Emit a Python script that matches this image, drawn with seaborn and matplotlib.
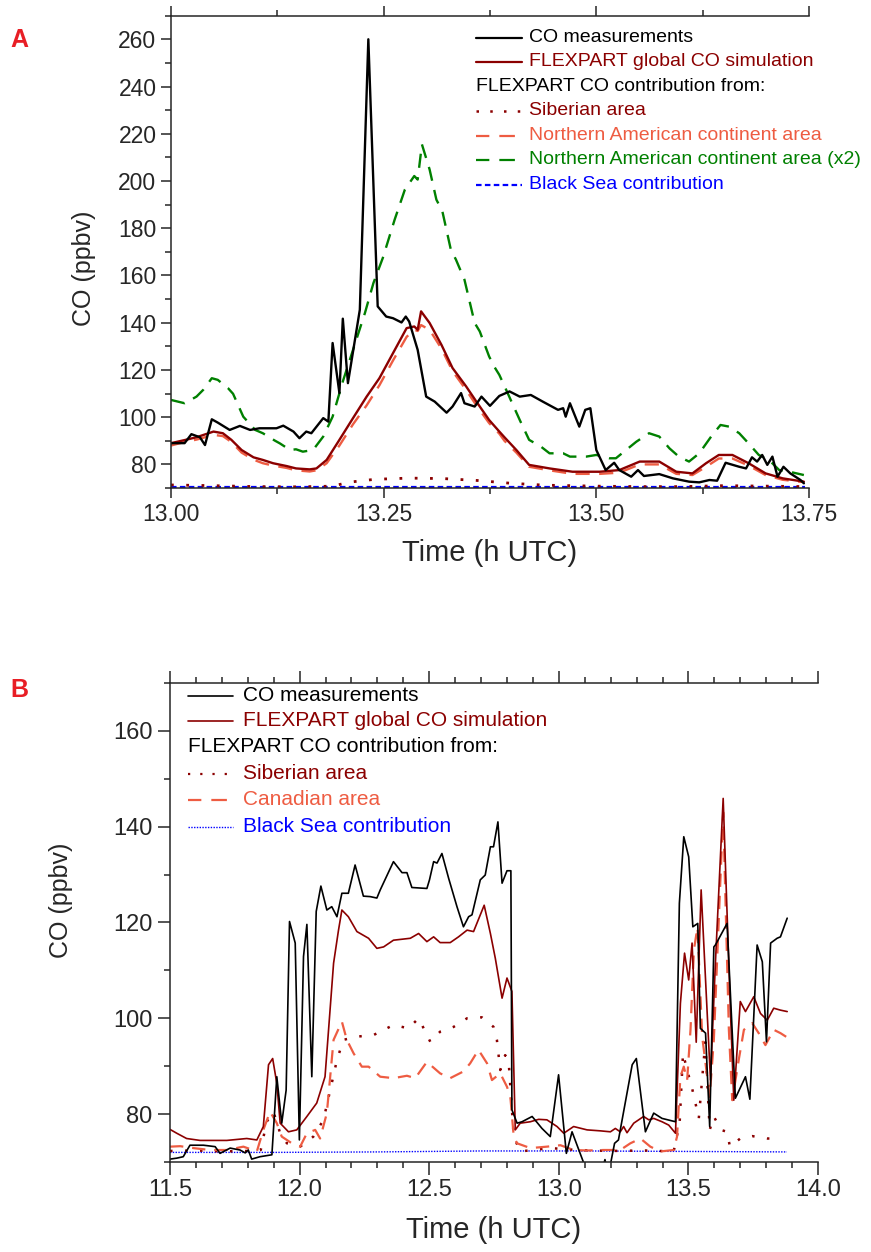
import matplotlib
matplotlib.use("Agg")
import matplotlib.pyplot as plt
from matplotlib.ticker import MultipleLocator, FormatStrFormatter
import seaborn as sns

# PANEL A DATA (time in h UTC, CO in ppbv)
a_meas_t = [13.000, 13.016, 13.024, 13.034, 13.040, 13.048, 13.055, 13.069, 13.081, 13.093,
            13.104, 13.124, 13.132, 13.144, 13.151, 13.159, 13.165, 13.179, 13.185, 13.190,
            13.198, 13.202, 13.208, 13.222, 13.232, 13.243, 13.253, 13.261, 13.271, 13.276,
            13.280, 13.290, 13.300, 13.310, 13.324, 13.331, 13.341, 13.345, 13.357, 13.365,
            13.375, 13.386, 13.398, 13.410, 13.423, 13.437, 13.455, 13.461, 13.464, 13.469,
            13.480, 13.487, 13.493, 13.500, 13.511, 13.521, 13.527, 13.541, 13.549, 13.556,
            13.574, 13.590, 13.609, 13.621, 13.633, 13.642, 13.652, 13.668, 13.676, 13.683,
            13.689, 13.695, 13.701, 13.707, 13.713, 13.720, 13.728, 13.740, 13.744]
a_meas_v = [89, 89, 92.8, 91.5, 88.2, 99.1, 97.7, 94.6, 96.3, 94.6,
            95.3, 95.3, 96.4, 93.9, 91.1, 93.9, 93.2, 99.6, 98.1, 131.4,
            110.2, 141.7, 114.4, 145.5, 260, 146.9, 142.6, 141.9, 140.1, 142.6,
            140.5, 128.5, 108.7, 106.6, 101.9, 104.5, 110.2, 105.9, 104.5, 108.7,
            104.8, 109.0, 110.9, 108.7, 109.4, 106.6, 103.1, 103.8, 100.2, 105.9,
            96.0, 103.1, 103.8, 86.1, 77.6, 80.7, 77.6, 74.8, 77.6, 75.1,
            75.9, 74.1, 72.7, 72.4, 73.4, 73.1, 80.7, 79.0, 78.3, 83.0,
            81.2, 84.0, 79.8, 83.3, 74.8, 79.0, 76.2, 73.4, 72.0]

a_sim_t = [13.000, 13.016, 13.030, 13.050, 13.061, 13.071, 13.083, 13.097, 13.108, 13.120,
           13.136, 13.147, 13.163, 13.171, 13.183, 13.198, 13.214, 13.230, 13.245, 13.261,
           13.277, 13.286, 13.290, 13.294, 13.304, 13.318, 13.331, 13.347, 13.359, 13.374,
           13.386, 13.392, 13.406, 13.421, 13.445, 13.472, 13.504, 13.527, 13.551, 13.574,
           13.594, 13.613, 13.629, 13.644, 13.660, 13.679, 13.699, 13.719, 13.744]
a_glob_v = [89, 90.3, 91.5, 93.9, 93.2, 90.4, 86.1, 83.0, 81.9, 80.5,
            79.3, 78.3, 77.9, 78.3, 81.9, 90.4, 99.6, 108.7, 116.5, 127.1,
            137.7, 138.4, 137.0, 144.8, 139.9, 130.6, 120.8, 113.0, 106.6, 98.8,
            93.9, 91.5, 86.1, 79.8, 78.3, 76.9, 76.9, 77.6, 81.2, 81.2,
            76.9, 76.2, 80.5, 84.0, 84.0, 80.5, 76.2, 74.1, 72.7]
a_nam_v = [88, 89.5, 90.5, 92.5, 92, 89.5, 85, 82, 80.5, 79.5,
           78.5, 77.5, 77, 77.5, 80.5, 88, 97, 105, 113.5, 124,
           134, 137, 136.5, 139, 137, 129, 119.5, 111.5, 105, 97.5,
           93, 90, 85, 79, 77.5, 76, 76, 76.5, 80, 80,
           76, 75.5, 79, 82.5, 82.5, 79.5, 75.5, 73.5, 72.5]

a_nam2_t = [13.000, 13.016, 13.030, 13.038, 13.048, 13.055, 13.067, 13.073, 13.085, 13.099,
            13.108, 13.122, 13.128, 13.140, 13.147, 13.155, 13.167, 13.179, 13.190, 13.202,
            13.214, 13.228, 13.238, 13.249, 13.263, 13.275, 13.286, 13.290, 13.295, 13.304,
            13.312, 13.319, 13.329, 13.335, 13.345, 13.357, 13.363, 13.374, 13.380, 13.386,
            13.394, 13.410, 13.421, 13.435, 13.445, 13.461, 13.469, 13.488, 13.500, 13.515,
            13.523, 13.535, 13.547, 13.562, 13.574, 13.586, 13.597, 13.609, 13.621, 13.635,
            13.646, 13.656, 13.668, 13.679, 13.691, 13.703, 13.715, 13.727, 13.744]
a_nam2_v = [107.3, 105.9, 108.7, 111.6, 116.5, 115.8, 112.3, 109.9, 100.2, 94.6,
            93.2, 90.1, 88.9, 86.1, 86.4, 85.4, 86.1, 91.8, 100.2, 115.1,
            128.5, 144.1, 156.8, 167.4, 183.7, 196.4, 202.1, 200.6, 215.5, 204.9,
            192.1, 187.2, 170.9, 166.7, 158.2, 139.9, 136.3, 125.7, 121.4, 117.9,
            111.6, 98.8, 90.4, 87.5, 84.7, 84.7, 83.3, 83.3, 84.0, 82.6,
            82.6, 86.1, 89.6, 93.2, 91.8, 86.8, 83.3, 81.2, 84.7, 91.8,
            96.7, 96.0, 93.2, 88.9, 84.0, 81.9, 77.6, 76.9, 75.5]

a_sib_t = [13.00, 13.05, 13.10, 13.15, 13.19, 13.21, 13.24, 13.28, 13.32,
           13.36, 13.40, 13.44, 13.50, 13.55, 13.60, 13.65, 13.70, 13.745]
a_sib_v = [71.3, 71.0, 70.6, 70.5, 70.8, 72.5, 73.7, 74.2, 74.0,
           73.2, 72.0, 71.2, 70.8, 70.6, 70.6, 71.0, 70.8, 70.6]

a_bs_t = [13.00, 13.25, 13.50, 13.745]
a_bs_v = [70.3, 70.3, 70.3, 70.3]

# PANEL B DATA
b_meas_t = [11.500, 11.526, 11.551, 11.577, 11.629, 11.674, 11.693, 11.732, 11.770, 11.790,
            11.802, 11.815, 11.847, 11.893, 11.912, 11.931, 11.948, 11.961, 11.983, 11.999,
            12.015, 12.028, 12.047, 12.064, 12.082, 12.105, 12.124, 12.144, 12.163, 12.188,
            12.214, 12.246, 12.272, 12.298, 12.311, 12.362, 12.395, 12.414, 12.433, 12.491,
            12.501, 12.517, 12.530, 12.549, 12.575, 12.607, 12.632, 12.652, 12.665, 12.697,
            12.716, 12.736, 12.748, 12.765, 12.781, 12.800, 12.815, 12.819, 12.839, 12.858,
            12.897, 12.935, 12.967, 12.999, 13.029, 13.051, 13.096, 13.120, 13.160, 13.178,
            13.190, 13.215, 13.230, 13.283, 13.299, 13.334, 13.366, 13.398, 13.450, 13.465,
            13.482, 13.501, 13.517, 13.536, 13.546, 13.566, 13.582, 13.598, 13.604, 13.649,
            13.681, 13.720, 13.737, 13.765, 13.785, 13.801, 13.817, 13.842, 13.855, 13.881]
b_meas_v = [70.6, 70.8, 71.1, 73.5, 73.5, 73.2, 71.8, 72.9, 72.5, 71.9,
            72.5, 70.6, 71.1, 71.5, 87.8, 78.1, 85.0, 120.2, 115.7, 74.6,
            112.9, 119.6, 87.8, 122.3, 127.6, 122.6, 123.3, 121.2, 126.1, 126.1,
            132.0, 125.5, 125.4, 125.1, 126.8, 132.7, 130.4, 130.4, 127.3, 127.1,
            128.9, 132.7, 132.4, 134.4, 129.2, 123.3, 119.1, 121.2, 121.6, 128.9,
            129.9, 135.8, 135.8, 141.0, 128.2, 130.8, 130.8, 80.9, 78.1, 78.4,
            79.5, 77.0, 75.3, 88.2, 71.8, 76.3, 69.8, 68.0, 67.0, 70.5,
            67.0, 73.9, 74.6, 90.3, 91.6, 76.3, 80.2, 79.1, 78.4, 124.0,
            137.9, 133.7, 119.1, 119.8, 97.9, 96.9, 77.4, 114.9, 115.3, 119.8,
            83.3, 87.8, 83.1, 115.3, 111.8, 95.1, 115.7, 116.7, 117.0, 120.9]

b_glob_t = [11.500, 11.526, 11.564, 11.616, 11.719, 11.796, 11.835, 11.860, 11.880, 11.896,
            11.912, 11.925, 11.957, 11.989, 12.028, 12.066, 12.098, 12.131, 12.150, 12.163,
            12.188, 12.221, 12.266, 12.298, 12.324, 12.362, 12.427, 12.459, 12.491, 12.517,
            12.542, 12.581, 12.613, 12.646, 12.671, 12.712, 12.736, 12.755, 12.781, 12.800,
            12.819, 12.832, 12.851, 12.890, 12.922, 12.954, 12.993, 13.019, 13.057, 13.109,
            13.160, 13.199, 13.218, 13.237, 13.250, 13.263, 13.289, 13.327, 13.347, 13.366,
            13.398, 13.424, 13.450, 13.469, 13.485, 13.501, 13.514, 13.530, 13.549, 13.585,
            13.604, 13.634, 13.660, 13.675, 13.700, 13.720, 13.752, 13.778, 13.804, 13.829,
            13.855, 13.881]
b_glob_v = [76.8, 76.0, 74.9, 74.5, 74.5, 74.9, 74.6, 77.4, 90.3, 91.6,
            86.4, 78.1, 76.3, 76.7, 79.5, 82.3, 87.8, 111.5, 118.4, 122.6,
            121.2, 118.1, 116.7, 114.6, 114.9, 116.3, 116.7, 117.7, 116.0, 117.0,
            115.8, 115.8, 117.0, 118.4, 118.1, 123.6, 117.7, 112.5, 104.2, 108.4,
            105.6, 76.7, 78.1, 78.4, 78.9, 78.8, 77.4, 76.0, 77.4, 76.7,
            76.5, 76.3, 77.0, 76.3, 77.4, 76.1, 78.1, 79.5, 78.8, 79.1,
            78.4, 77.7, 76.0, 103.1, 113.6, 108.0, 115.7, 95.0, 126.8, 87.1,
            111.5, 145.9, 104.5, 82.9, 103.5, 101.4, 104.5, 101.0, 99.6, 102.1,
            101.7, 101.4]

b_can_t = [11.500, 11.539, 11.590, 11.654, 11.719, 11.783, 11.835, 11.860, 11.886, 11.912,
           11.931, 11.970, 12.002, 12.028, 12.060, 12.079, 12.105, 12.131, 12.163, 12.182,
           12.208, 12.240, 12.266, 12.311, 12.362, 12.414, 12.446, 12.491, 12.542, 12.581,
           12.632, 12.658, 12.690, 12.723, 12.742, 12.774, 12.800, 12.813, 12.826, 12.839,
           12.890, 12.954, 13.006, 13.057, 13.109, 13.173, 13.237, 13.276, 13.315, 13.353,
           13.392, 13.443, 13.456, 13.469, 13.482, 13.495, 13.508, 13.521, 13.535, 13.553,
           13.582, 13.598, 13.634, 13.656, 13.669, 13.694, 13.714, 13.746, 13.771, 13.797,
           13.829, 13.855, 13.881]
b_can_v = [73.2, 73.3, 72.9, 72.5, 72.5, 73.2, 72.2, 76.7, 80.5, 78.1,
           75.3, 73.9, 73.2, 76.0, 76.7, 74.9, 80.2, 95.5, 99.3, 95.5,
           92.7, 89.9, 89.9, 87.8, 87.5, 88.0, 87.5, 90.9, 88.5, 87.5,
           88.9, 90.6, 93.4, 90.6, 87.1, 88.5, 85.7, 83.6, 75.3, 73.9,
           72.9, 73.2, 73.5, 72.5, 72.4, 72.5, 72.5, 73.9, 74.9, 73.2,
           72.2, 72.5, 75.3, 87.8, 89.9, 87.1, 97.6, 114.3, 119.0, 96.2,
           83.6, 95.5, 143.0, 97.6, 82.9, 91.3, 97.6, 99.0, 96.9, 94.4,
           97.6, 96.9, 96.0]

b_sib_t = [11.500, 11.600, 11.700, 11.800, 11.850, 11.873, 11.899, 11.925, 11.951, 12.002,
           12.053, 12.092, 12.118, 12.144, 12.169, 12.227, 12.285, 12.362, 12.420, 12.459,
           12.485, 12.504, 12.542, 12.594, 12.646, 12.703, 12.748, 12.761, 12.774, 12.793,
           12.806, 12.826, 12.851, 12.967, 13.070, 13.200, 13.330, 13.443, 13.466, 13.479,
           13.495, 13.514, 13.527, 13.540, 13.565, 13.582, 13.598, 13.625, 13.649, 13.660,
           13.700, 13.746, 13.804, 13.855]
b_sib_v = [72.3, 72.4, 72.2, 72.3, 72.5, 78.4, 80.5, 76.0, 73.9, 73.2,
           75.3, 78.8, 85.0, 91.3, 95.5, 96.2, 96.5, 98.6, 97.9, 100.0,
           97.2, 95.1, 97.2, 98.2, 100.0, 100.2, 98.2, 95.5, 89.2, 92.3,
           91.3, 75.3, 72.2, 72.9, 72.5, 72.3, 72.4, 72.2, 78.1, 92.7,
           89.2, 85.4, 82.3, 79.1, 95.0, 76.7, 79.5, 76.7, 76.3, 73.2,
           74.9, 75.4, 74.9, 74.9]

b_bs_t = [11.50, 11.90, 12.30, 12.70, 13.10, 13.50, 13.88]
b_bs_v = [72.0, 72.0, 72.1, 72.3, 72.3, 72.2, 72.1]

# COLOURS
DARKRED = "#8B0000"
TOMATO = "#EE5C42"
GREEN = "#008000"
BLUE = "#0000FF"

sns.set_style("ticks")
plt.rcParams["font.family"] = ["Liberation Sans", "DejaVu Sans"]

fig = plt.figure(figsize=(8.71, 12.52), dpi=100)
ax_a = fig.add_axes([0.1963, 0.6102, 0.7325, 0.3773])
ax_b = fig.add_axes([0.1952, 0.0719, 0.7440, 0.3826])


def draw(ax, t, v, color, lw, ls):
    sns.lineplot(x=t, y=v, ax=ax, color=color, linewidth=lw, linestyle=ls,
                 estimator=None, sort=False, legend=False)


# Panel A series
DOT_A = (0, (1, 4.5))
DASH_A = (0, (6, 4))
SHORT_A = (0, (2.5, 1.5))
draw(ax_a, a_bs_t, a_bs_v, BLUE, 1.6, SHORT_A)
draw(ax_a, a_sib_t, a_sib_v, DARKRED, 2.0, DOT_A)
draw(ax_a, a_nam2_t, a_nam2_v, GREEN, 1.7, DASH_A)
draw(ax_a, a_sim_t, a_nam_v, TOMATO, 1.7, DASH_A)
draw(ax_a, a_sim_t, a_glob_v, DARKRED, 1.7, "-")
draw(ax_a, a_meas_t, a_meas_v, "black", 1.7, "-")

# Panel B series
DOT_B = (0, (1, 5))
DASH_B = (0, (6, 4))
FINE_B = (0, (1, 1))
draw(ax_b, b_bs_t, b_bs_v, BLUE, 1.0, FINE_B)
draw(ax_b, b_sib_t, b_sib_v, DARKRED, 1.8, DOT_B)
draw(ax_b, b_can_t, b_can_v, TOMATO, 1.6, DASH_B)
draw(ax_b, b_glob_t, b_glob_v, DARKRED, 1.2, "-")
draw(ax_b, b_meas_t, b_meas_v, "black", 1.2, "-")

# Axes styling
for ax in (ax_a, ax_b):
    ax.spines["right"].set_visible(False)
    for s in ("left", "bottom", "top"):
        ax.spines[s].set_linewidth(1.1)
    ax.tick_params(which="both", direction="out", top=True, right=False, width=1.1)
    ax.tick_params(which="major", length=7)
    ax.tick_params(which="minor", length=4)

ax_a.set_xlim(13.0, 13.75)
ax_a.set_ylim(70, 270)
ax_a.xaxis.set_major_locator(MultipleLocator(0.25))
ax_a.xaxis.set_minor_locator(MultipleLocator(0.125))
ax_a.xaxis.set_major_formatter(FormatStrFormatter("%.2f"))
ax_a.set_yticks(range(80, 261, 20))
ax_a.yaxis.set_minor_locator(MultipleLocator(10))
ax_a.tick_params(labelsize=16.5)
ax_a.set_xlabel("Time (h UTC)", fontsize=21)
ax_a.set_ylabel("CO (ppbv)", fontsize=18)
ax_a.xaxis.set_label_coords(0.5, -0.108)
ax_a.yaxis.set_label_coords(-0.118, 0.466)

ax_b.set_xlim(11.5, 14.0)
ax_b.set_ylim(70, 170)
ax_b.xaxis.set_major_locator(MultipleLocator(0.5))
ax_b.xaxis.set_minor_locator(MultipleLocator(0.1))
ax_b.xaxis.set_major_formatter(FormatStrFormatter("%.1f"))
ax_b.set_yticks(range(80, 161, 20))
ax_b.yaxis.set_minor_locator(MultipleLocator(10))
ax_b.tick_params(labelsize=17)
ax_b.tick_params(which="major", length=9)
ax_b.set_xlabel("Time (h UTC)", fontsize=21)
ax_b.set_ylabel("CO (ppbv)", fontsize=18)
ax_b.xaxis.set_label_coords(0.5, -0.112)
ax_b.yaxis.set_label_coords(-0.15, 0.547)


# Hand-built legends (rows of handle + coloured text)
def legend_rows(ax, rows, x0, x1, xt, ys, size):
    for (label, color, lw, ls), y in zip(rows, ys):
        if ls is None:
            ax.text(x0, y, label, transform=ax.transAxes, color=color,
                    fontsize=size, va="center", ha="left")
            continue
        ax.plot([x0, x1], [y, y], transform=ax.transAxes, color=color,
                linewidth=lw, linestyle=ls, clip_on=False)
        ax.text(xt, y, label, transform=ax.transAxes, color=color,
                fontsize=size, va="center", ha="left")


rows_a = [
    ("CO measurements", "black", 1.6, "-"),
    ("FLEXPART global CO simulation", DARKRED, 1.6, "-"),
    ("FLEXPART CO contribution from:", "black", 0, None),
    ("Siberian area", DARKRED, 1.8, (0, (1, 4.5))),
    ("Northern American continent area", TOMATO, 1.6, (1, (7, 4.5))),
    ("Northern American continent area (x2)", GREEN, 1.6, (1, (7, 4.5))),
    ("Black Sea contribution", BLUE, 1.6, SHORT_A),
]
ys_a = [(488 - y) / 472.3 for y in (38, 62, 87, 111, 136, 160, 185)]
legend_rows(ax_a, rows_a, 0.478, 0.550, 0.561, ys_a, 14)

rows_b = [
    ("CO measurements", "black", 1.2, "-"),
    ("FLEXPART global CO simulation", DARKRED, 1.2, "-"),
    ("FLEXPART CO contribution from:", "black", 0, None),
    ("Siberian area", DARKRED, 1.6, (0, (1, 4.5))),
    ("Canadian area", TOMATO, 1.6, (1, (7, 4.5))),
    ("Black Sea contribution", BLUE, 1.0, FINE_B),
]
ys_b = [(1162 - y) / 479 for y in (696, 721, 747, 774, 800, 827)]
legend_rows(ax_b, rows_b, 0.028, 0.097, 0.112, ys_b, 15)

# Panel letters
fig.text(0.012, 1 - 40 / 1252, "A", color="#E81E25", fontsize=18, fontweight="bold", va="center")
fig.text(0.012, 1 - 690 / 1252, "B", color="#E81E25", fontsize=18, fontweight="bold", va="center")

fig.savefig("out.png", dpi=100)
